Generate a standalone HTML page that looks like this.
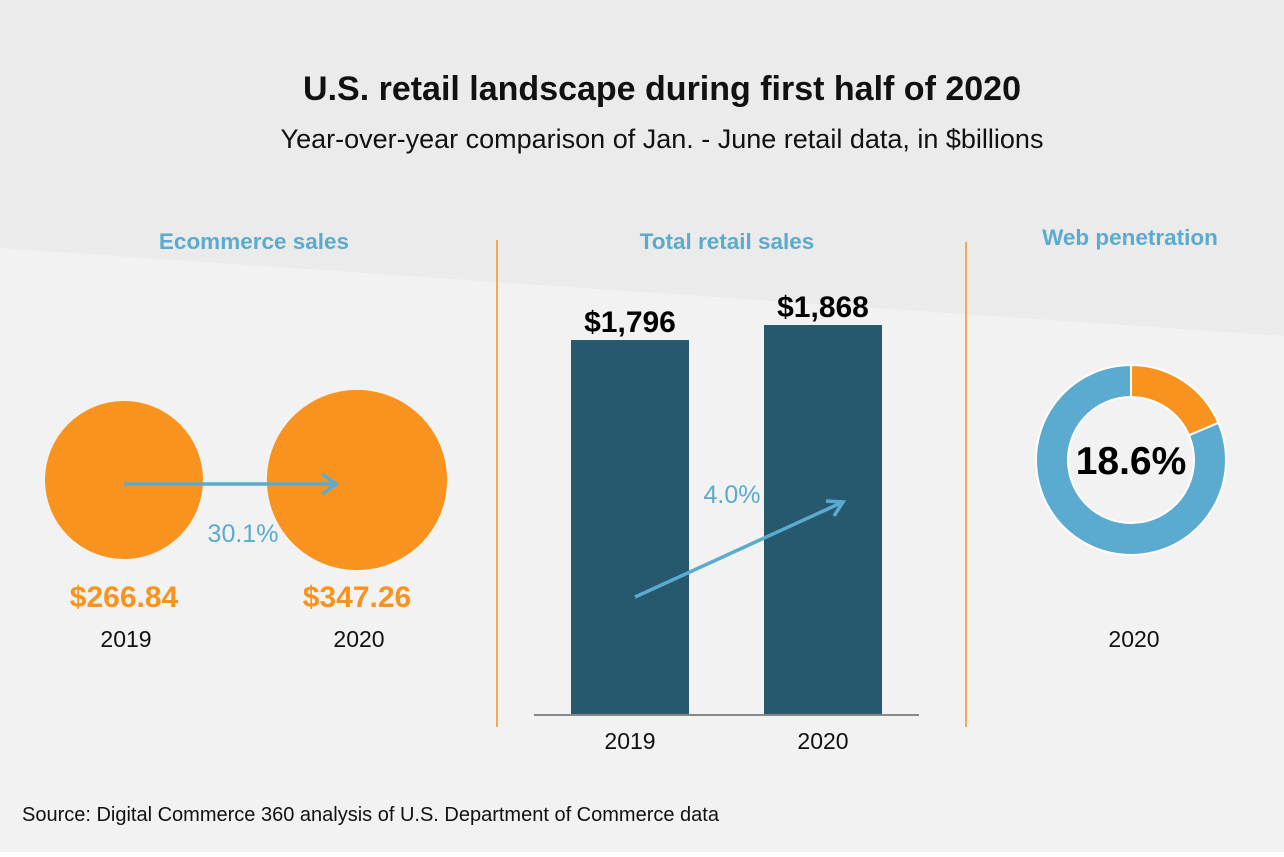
<!DOCTYPE html>
<html><head><meta charset="utf-8"><style>
body{margin:0;width:1284px;height:852px;overflow:hidden;font-family:"Liberation Sans",sans-serif;}
svg text{font-family:"Liberation Sans",sans-serif;}
</style></head><body>
<svg width="1284" height="852">
<rect width="1284" height="852" fill="#f2f2f2"/>
<polygon points="0,0 1284,0 1284,336 0,248" fill="#ebebeb"/>
<text x="662" y="100" text-anchor="middle" font-size="34" font-weight="bold" fill="#111">U.S. retail landscape during first half of 2020</text>
<text x="662" y="148" text-anchor="middle" font-size="27" fill="#111">Year-over-year comparison of Jan. - June retail data, in $billions</text>
<text x="254" y="249" text-anchor="middle" font-size="22.5" font-weight="bold" fill="#5aabcf">Ecommerce sales</text>
<text x="727" y="249" text-anchor="middle" font-size="22.5" font-weight="bold" fill="#5aabcf">Total retail sales</text>
<text x="1130" y="245" text-anchor="middle" font-size="22.5" font-weight="bold" fill="#5aabcf">Web penetration</text>
<line x1="497" y1="240" x2="497" y2="727" stroke="#f7931e" stroke-width="1.5"/>
<line x1="966" y1="242" x2="966" y2="727" stroke="#f7931e" stroke-width="1.5"/>
<g id="eco"></g>
<g id="bars"></g>
<g id="donut"></g>
<text x="1134" y="647" text-anchor="middle" font-size="23" fill="#111">2020</text>
<text x="22" y="821" font-size="20" fill="#111">Source: Digital Commerce 360 analysis of U.S. Department of Commerce data</text>
</svg>
<script>
const ecoYears=["2019","2020"];
const ecoValues=[266.84,347.26];
const ecoLabels=["$266.84","$347.26"];
const ecoGrowth="30.1%";
const retailYears=["2019","2020"];
const retailValues=[1796,1868];
const retailLabels=["$1,796","$1,868"];
const retailGrowth="4.0%";
const webShare=[18.6];
const webLabel="18.6%";
const NS="http://www.w3.org/2000/svg";
function mk(p,t,a,txt){const e=document.createElementNS(NS,t);for(const k in a)e.setAttribute(k,a[k]);if(txt!==undefined)e.textContent=txt;p.appendChild(e);return e;}
const eco=document.getElementById('eco');
const ecoX=[124,357],rK=79/Math.sqrt(266.84);
ecoValues.forEach((v,i)=>{
 const c=mk(eco,'circle',{cx:ecoX[i],cy:480,r:rK*Math.sqrt(v),fill:'#f7931e'});
 
 
 const l=mk(eco,'text',{x:ecoX[i],y:607,'text-anchor':'middle','font-size':30,'font-weight':'bold',fill:'#f7931e'},ecoLabels[i]);
 
 
 const y=mk(eco,'text',{x:ecoX[i]+2,y:647,'text-anchor':'middle','font-size':23,fill:'#111'},ecoYears[i]);
 
 
});
const ea=mk(eco,'path',{d:'M124 484 H336 M322 474 L336 484 L322 494',stroke:'#5aabcf','stroke-width':3.5,fill:'none'});


const eg=mk(eco,'text',{x:243,y:542,'text-anchor':'middle','font-size':25,fill:'#5aabcf'},ecoGrowth);


const bars=document.getElementById('bars');
const base=715,py=390/1868,bx=[571,764],bw=118;
retailValues.forEach((v,i)=>{
 const h=v*py;
 const r=mk(bars,'rect',{x:bx[i],y:base-h,width:bw,height:h,fill:'#26586e'});
 
 
 const t=mk(bars,'text',{x:bx[i]+bw/2,y:base-h-8,'text-anchor':'middle','font-size':30,'font-weight':'bold',fill:'#000'},retailLabels[i]);
 
 
 const y=mk(bars,'text',{x:bx[i]+bw/2,y:749,'text-anchor':'middle','font-size':23,fill:'#111'},retailYears[i]);
 
 
});
const ax=mk(bars,'line',{x1:534,x2:919,y1:base,y2:base,stroke:'#888','stroke-width':2});


const ba=mk(bars,'path',{d:'M635 597 L843 502 M826 501 L843 502 L834 516',stroke:'#5aabcf','stroke-width':3.5,fill:'none'});


const bg=mk(bars,'text',{x:732,y:503,'text-anchor':'middle','font-size':25,fill:'#5aabcf'},retailGrowth);


const dn=document.getElementById('donut');
const cx=1131,cy=460,R=95,r0=63;
function arc(a0,a1){const p=(a,rr)=>[cx+rr*Math.sin(a),cy-rr*Math.cos(a)];const lg=a1-a0>Math.PI?1:0;const A=p(a0,R),B=p(a1,R),C=p(a1,r0),D=p(a0,r0);return `M${A} A${R} ${R} 0 ${lg} 1 ${B} L${C} A${r0} ${r0} 0 ${lg} 0 ${D}Z`;}
const s=webShare[0]/100*2*Math.PI;
const o=mk(dn,'path',{d:arc(0,s),fill:'#f7931e',stroke:'#fff','stroke-width':2});


const b=mk(dn,'path',{d:arc(s,2*Math.PI-0.0001),fill:'#5aabcf',stroke:'#fff','stroke-width':2});


const dl=mk(dn,'text',{x:cx,y:cy+14,'text-anchor':'middle','font-size':39,'font-weight':'bold',fill:'#000'},webLabel);


</script>
</body></html>
